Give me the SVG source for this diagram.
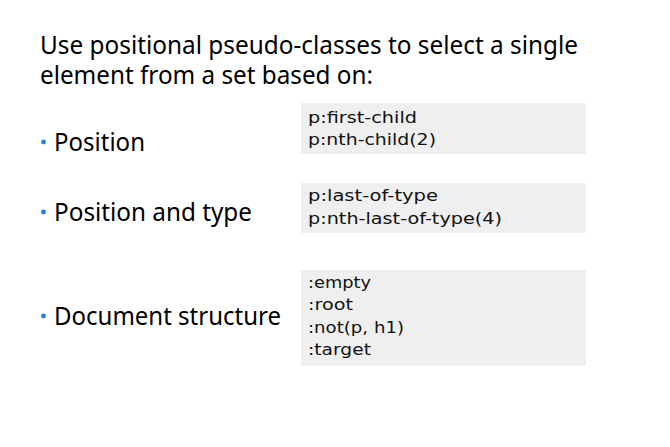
<svg xmlns="http://www.w3.org/2000/svg" width="670" height="447" viewBox="0 0 670 447">
<style>
.t{font-family:"Noto Sans","Open Sans",sans-serif;fill:#000}
.title{font-size:25px}
.b{font-size:25px}
.code{font-family:"DejaVu Sans","Noto Sans",sans-serif;font-size:15.5px;fill:#111}
.box{fill:#efefef}
.dot{fill:#1f7fd0}
</style>
<rect width="670" height="447" fill="#fff"/>
<g id="title">
<text class="t title" x="40" y="53.5" textLength="538" lengthAdjust="spacingAndGlyphs">Use positional pseudo-classes to select a single</text>
<text class="t title" x="40" y="84" textLength="333" lengthAdjust="spacingAndGlyphs">element from a set based on:</text>
</g>
<g id="position">
<circle class="dot" cx="43.5" cy="142" r="2.4"/>
<text class="t b" x="54" y="151" textLength="91" lengthAdjust="spacingAndGlyphs">Position</text>
<rect class="box" x="301" y="103" width="285" height="51"/>
<text class="code" x="308" y="122.5" textLength="109" lengthAdjust="spacingAndGlyphs">p:first-child</text>
<text class="code" x="308" y="145" textLength="128" lengthAdjust="spacingAndGlyphs">p:nth-child(2)</text>
</g>
<g id="position-type">
<circle class="dot" cx="43.5" cy="212" r="2.4"/>
<text class="t b" x="54" y="221" textLength="198" lengthAdjust="spacingAndGlyphs">Position and type</text>
<rect class="box" x="301" y="183" width="285" height="50"/>
<text class="code" x="308" y="201" textLength="130" lengthAdjust="spacingAndGlyphs">p:last-of-type</text>
<text class="code" x="308" y="223.5" textLength="194" lengthAdjust="spacingAndGlyphs">p:nth-last-of-type(4)</text>
</g>
<g id="document-structure">
<circle class="dot" cx="43.5" cy="316" r="2.4"/>
<text class="t b" x="54" y="325" textLength="227" lengthAdjust="spacingAndGlyphs">Document structure</text>
<rect class="box" x="301" y="270" width="285" height="96"/>
<text class="code" x="308" y="287.5" textLength="63" lengthAdjust="spacingAndGlyphs">:empty</text>
<text class="code" x="308" y="310" textLength="45" lengthAdjust="spacingAndGlyphs">:root</text>
<text class="code" x="308" y="332.5" textLength="96" lengthAdjust="spacingAndGlyphs">:not(p, h1)</text>
<text class="code" x="308" y="354.5" textLength="63" lengthAdjust="spacingAndGlyphs">:target</text>
</g>
</svg>
